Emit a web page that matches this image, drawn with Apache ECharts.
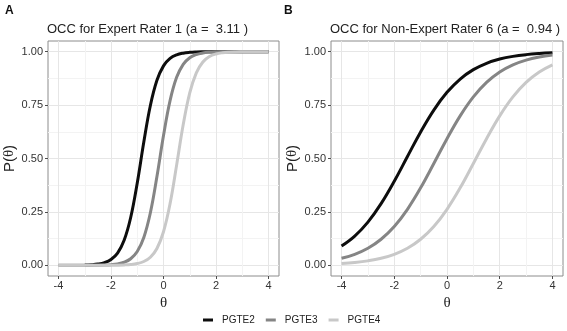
<!DOCTYPE html>
<html><head><meta charset="utf-8">
<script src="https://cdn.jsdelivr.net/npm/echarts@6/dist/echarts.min.js"></script>
<style>html,body{margin:0;padding:0;background:#fff}#c{width:567px;height:331px}</style>
</head><body><div id="c"></div>
<script>
// theta grid for panel A (step 0.25) and panel B (step 0.5)
const thetaA = [-4,-3.75,-3.5,-3.25,-3,-2.75,-2.5,-2.25,-2,-1.75,-1.5,-1.25,-1,-0.75,-0.5,-0.25,0,0.25,0.5,0.75,1,1.25,1.5,1.75,2,2.25,2.5,2.75,3,3.25,3.5,3.75,4];
const thetaB = [-4,-3.5,-3,-2.5,-2,-1.5,-1,-0.5,0,0.5,1,1.5,2,2.5,3,3.5,4];
const seriesNames = ['PGTE2','PGTE3','PGTE4'];

// Panel A: Expert Rater 1 (a = 3.11)
const pgte2A = [null,null,null,null,0.0012,0.0027,0.0059,0.0127,0.0272,0.0573,0.1170,0.2237,0.3855,0.5771,0.7481,0.8660,0.9336,0.9683,0.9852,0.9931,0.9968,0.9985,0.9993,0.9997,0.9999,1,1,1,1,1,1,1,1];
const pgte3A = [0,0,0,0.0001,0.0001,0.0003,0.0006,0.0014,0.0031,0.0066,0.0143,0.0307,0.0645,0.1304,0.2460,0.4153,0.6072,0.7708,0.8798,0.9409,0.9719,0.9869,0.9939,0.9972,0.9987,0.9994,0.9997,0.9999,1,1,1,1,1];
const pgte4A = [0,0,0,0,0,0,0.0001,0.0002,0.0004,0.0008,0.0018,0.0038,0.0083,0.0178,0.0379,0.0790,0.1572,0.2886,0.4690,0.6577,0.8071,0.9010,0.9519,0.9773,0.9894,0.9951,0.9978,0.9990,0.9995,0.9998,0.9999,1,1];

// Panel B: Non-Expert Rater 6 (a = 0.94)
const pgte2B = [0.0902,0.1368,0.2023,0.2886,0.3936,0.5094,0.6243,0.7267,0.8097,0.8720,0.9159,0.9457,0.9654,0.9781,0.9862,0.9913,0.9946];
const pgte3B = [0.0328,0.0515,0.0798,0.1220,0.1818,0.2623,0.3626,0.4765,0.5929,0.6997,0.7885,0.8564,0.9051,0.9386,0.9607,0.9750,0.9843];
const pgte4B = [0.0082,0.0131,0.0208,0.0328,0.0515,0.0798,0.1220,0.1818,0.2623,0.3626,0.4765,0.5929,0.6997,0.7885,0.8564,0.9051,0.9386];

const xMajor = [-4,-2,0,2,4];
const xMinor = [-3,-1,1,3];
const yMajor = [0,0.25,0.5,0.75,1];
const yMinor = [0.125,0.375,0.625,0.875];

const colors = ['#0d0d0d','#858585','#c8c8c8'];
const FONT = 'Liberation Sans';

function pairs(xs, ys){ return xs.map((x,i)=>[x, ys[i]]); }

function xAxesFor(g){
  return [
    {type:'value', gridIndex:g, min:-4.4, max:4.4, position:'bottom',
     axisLine:{show:false, onZero:false},
     axisTick:{show:true, customValues:xMajor, length:3, lineStyle:{color:'#4d4d4d'}},
     axisLabel:{customValues:xMajor, color:'#333', fontSize:11, fontFamily:FONT, margin:4, formatter:v=>String(v)},
     splitLine:{show:true, lineStyle:{color:'#e6e6e6', width:1}},
     name:'θ', nameLocation:'middle', nameGap:17,
     nameTextStyle:{fontFamily:'Liberation Serif', fontSize:15, color:'#222'}},
    {type:'value', gridIndex:g, min:-4.4, max:4.4, position:'top',
     axisLine:{show:false, onZero:false}, axisTick:{show:false, customValues:xMinor},
     axisLabel:{show:false, customValues:xMinor},
     splitLine:{show:true, lineStyle:{color:'#f3f3f3', width:1}}}
  ];
}
function yAxesFor(g){
  return [
    {type:'value', gridIndex:g, min:-0.05, max:1.05, position:'left',
     axisLine:{show:false, onZero:false},
     axisTick:{show:true, customValues:yMajor, length:3, lineStyle:{color:'#4d4d4d'}},
     axisLabel:{customValues:yMajor, color:'#333', fontSize:11, fontFamily:FONT, margin:5, formatter:v=>v.toFixed(2)},
     splitLine:{show:true, lineStyle:{color:'#e6e6e6', width:1}},
     name:'{a|P(}{b|θ}{a|)}', nameLocation:'middle', nameGap:31, nameRotate:90,
     nameTextStyle:{rich:{a:{fontFamily:FONT, fontSize:15, color:'#222'}, b:{fontFamily:'Liberation Serif', fontSize:15, color:'#222'}}}},
    {type:'value', gridIndex:g, min:-0.05, max:1.05, position:'right',
     axisLine:{show:false, onZero:false}, axisTick:{show:false, customValues:yMinor},
     axisLabel:{show:false, customValues:yMinor},
     splitLine:{show:true, lineStyle:{color:'#f3f3f3', width:1}}}
  ];
}

function lineSeries(name, xs, ys, g, color){
  return {name, type:'line', xAxisIndex:g*2, yAxisIndex:g*2, data:pairs(xs, ys),
    showSymbol:false, symbol:'none', smooth:0.4, connectNulls:false,
    lineStyle:{color, width:3}, itemStyle:{color}, z:3};
}

const chart = echarts.init(document.getElementById('c'), null, {renderer:'canvas'});
chart.setOption({
  animation:false,
  backgroundColor:'#ffffff',
  title:[
    {text:'A', left:5, top:5, padding:0, textStyle:{fontFamily:FONT, fontSize:12, fontWeight:'bold', color:'#111'}},
    {text:'B', left:284, top:5, padding:0, textStyle:{fontFamily:FONT, fontSize:12, fontWeight:'bold', color:'#111'}},
    {text:'OCC for Expert Rater 1 (a =  3.11 )', left:47, top:23, padding:0, textStyle:{fontFamily:FONT, fontSize:13, fontWeight:'normal', color:'#222'}},
    {text:'OCC for Non-Expert Rater 6 (a =  0.94 )', left:330, top:23, padding:0, textStyle:{fontFamily:FONT, fontSize:13, fontWeight:'normal', color:'#222'}}
  ],
  grid:[
    {left:48, top:41, width:231, height:235, show:true, borderColor:'#8c8c8c', borderWidth:1, backgroundColor:'#fff'},
    {left:331, top:41, width:232, height:235, show:true, borderColor:'#8c8c8c', borderWidth:1, backgroundColor:'#fff'}
  ],
  xAxis:[...xAxesFor(0), ...xAxesFor(1)],
  yAxis:[...yAxesFor(0), ...yAxesFor(1)],
  legend:{data:seriesNames, left:203, top:315, padding:0, icon:'rect', itemWidth:10, itemHeight:3, itemGap:11,
    textStyle:{fontFamily:FONT, fontSize:10, color:'#222', padding:[0,0,0,4]}},
  series:[
    lineSeries('PGTE2', thetaA, pgte2A, 0, colors[0]),
    lineSeries('PGTE3', thetaA, pgte3A, 0, colors[1]),
    lineSeries('PGTE4', thetaA, pgte4A, 0, colors[2]),
    lineSeries('PGTE2', thetaB, pgte2B, 1, colors[0]),
    lineSeries('PGTE3', thetaB, pgte3B, 1, colors[1]),
    lineSeries('PGTE4', thetaB, pgte4B, 1, colors[2])
  ]
});
</script></body></html>
